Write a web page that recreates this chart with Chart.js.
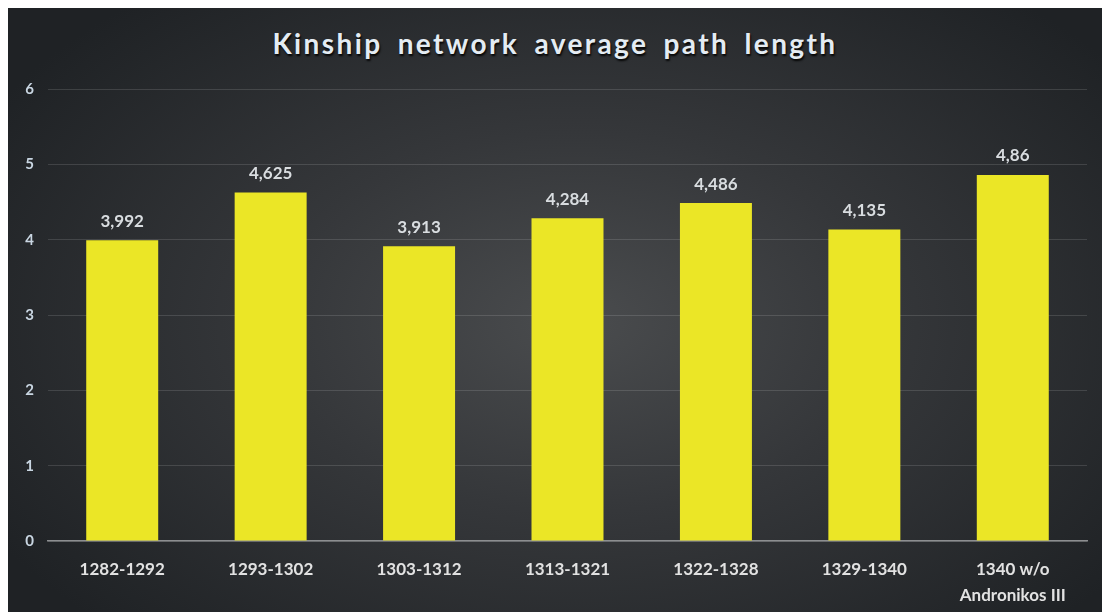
<!DOCTYPE html>
<html>
<head>
<meta charset="utf-8">
<script src="https://cdn.jsdelivr.net/npm/chart.js@4.4.1/dist/chart.umd.min.js"></script>
<style>
  html, body { margin: 0; padding: 0; background: #fff; }
  #wrap {
    position: absolute; left: 8px; top: 8px; width: 1094px; height: 604px;
    background: radial-gradient(ellipse 62% 70% at 52% 52%, #4a4c4e 0%, #35373a 45%, #1f2225 100%);
    overflow: hidden;
  }
  #title {
    position: absolute; left: 0; right: 0; top: 18px; margin: 0;
    text-align: center; font: bold 28px Lato, sans-serif; letter-spacing: 2.4px; word-spacing: 6px;
    color: #e4ecf3; text-shadow: 1px 2px 2px rgba(0,0,0,0.9);
  }
  canvas { position: absolute; left: 0; top: 0; }
</style>
</head>
<body>
<div id="wrap">
  <h1 id="title">Kinship network average path length</h1>
  <canvas id="chart" width="1094" height="604"></canvas>
</div>
<script>
// dữ liệu biểu đồ
const periods = ['1282-1292', '1293-1302', '1303-1312', '1313-1321', '1322-1328', '1329-1340', ['1340 w/o', 'Andronikos III']];
const pathLengths = [3.992, 4.625, 3.913, 4.284, 4.486, 4.135, 4.86];
const yTicks = [0, 1, 2, 3, 4, 5, 6];

const fmt = (v) => String(v).replace('.', ',');

// ve nhan gia tri tren cot
const valueLabels = {
  id: 'valueLabels',
  afterDatasetsDraw(chart) {
    const ctx = chart.ctx;
    const meta = chart.getDatasetMeta(0);
    ctx.save();
    ctx.font = 'bold 17px Lato, sans-serif';
    ctx.fillStyle = '#d9dde0';
    ctx.textAlign = 'center';
    ctx.textBaseline = 'middle';
    meta.data.forEach((bar, i) => {
      ctx.fillText(fmt(pathLengths[i]), bar.x, bar.y - 19);
    });
    ctx.restore();
  },
};

new Chart(document.getElementById('chart'), {
  type: 'bar',
  data: {
    labels: periods,
    datasets: [{
      data: pathLengths,
      backgroundColor: '#ebe626',
      borderWidth: 0,
      categoryPercentage: 1,
      barPercentage: 0.485,
    }],
  },
  options: {
    responsive: false,
    animation: false,
    layout: { padding: { top: 81, right: 15, left: 0, bottom: 0 } },
    plugins: { legend: { display: false }, tooltip: { enabled: false } },
    scales: {
      y: {
        min: 0, max: 6,
        afterFit: (s) => { s.width = 40; },
        afterBuildTicks: (s) => { s.ticks = yTicks.map(v => ({ value: v })); },
        grid: { color: 'rgba(255,255,255,0.13)', drawTicks: false },
        border: { display: false },
        ticks: {
          color: '#c9d6e2', padding: 14,
          font: { family: 'Lato, sans-serif', size: 15, weight: 'bold' },
        },
      },
      x: {
        afterFit: (s) => { s.height = 71; },
        grid: { display: false },
        border: { color: '#8c8e90', width: 1.5 },
        ticks: {
          color: '#e2e2e2', padding: 8,
          font: { family: 'Lato, sans-serif', size: 17, weight: 'bold', lineHeight: 1.5 },
          maxRotation: 0,
        },
      },
    },
  },
  plugins: [valueLabels],
});
</script>
</body>
</html>
